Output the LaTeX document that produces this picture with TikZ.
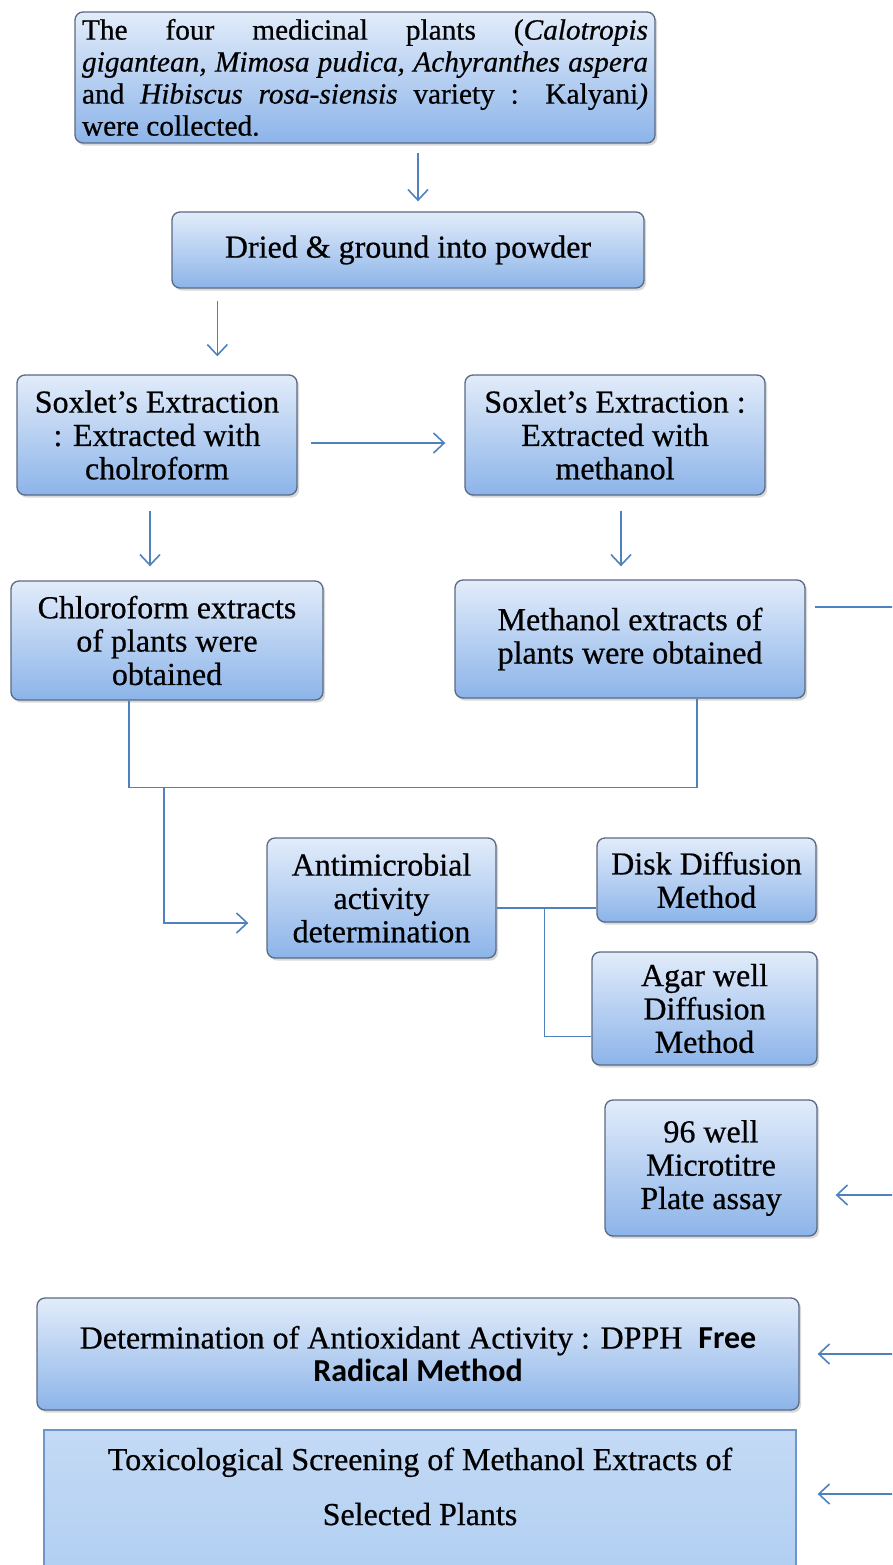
\documentclass[tikz,border=0pt]{standalone}
\usepackage{fontspec}
\setmainfont{Liberation Serif}[UprightFeatures={FakeBold=0.6},ItalicFeatures={FakeBold=0.6}]
\newfontfamily\calibri{Carlito}
\usetikzlibrary{arrows.meta,positioning,calc,shadows}
\newlength\px
\setlength\px{0.375pt}
\definecolor{boxtop}{RGB}{226,236,250}
\definecolor{boxbot}{RGB}{140,180,233}
\definecolor{boxedge}{RGB}{90,106,132}
\definecolor{flow}{RGB}{79,129,189}
\definecolor{toxtop}{RGB}{196,218,245}
\definecolor{toxbot}{RGB}{172,203,241}
\definecolor{toxedge}{RGB}{110,150,205}

\begin{document}
\begin{tikzpicture}[x=1\px,y=-1\px,
    stepbox/.style={draw=boxedge, line width=0.5pt, rounded corners=3pt,
        top color=boxtop, bottom color=boxbot,
        drop shadow={shadow xshift=0.8pt, shadow yshift=-1pt, opacity=0.3},
        align=center, inner sep=2pt, font=\fontsize{12}{12.5}\selectfont},
    toxbox/.style={draw=toxedge, line width=0.5pt, top color=toxtop, bottom color=toxbot,
        align=center, inner sep=2pt, font=\fontsize{12}{20.6}\selectfont},
    flowline/.style={draw=flow, line width=0.6pt},
    flowarrow/.style={flowline, -{Straight Barb[length=4pt,width=7.5pt]}},
]
    \path[use as bounding box, clip] (0,0) rectangle (892,1565);

    % boxes
    \node[stepbox, minimum width=580\px, minimum height=131\px, text width=566\px,
          align=justify, font=\fontsize{11}{12}\selectfont] (plants) at (365,77.5)
        {The four medicinal plants (\textit{Calotropis}\linebreak
         \textit{gigantean, Mimosa pudica, Achyranthes aspera}\linebreak
         and \textit{Hibiscus rosa-siensis} variety : Kalyani\textit{)}\linebreak
         were collected.};
    \node[stepbox, minimum width=472\px, minimum height=76\px] (dried) at (408,250)
        {Dried \& ground into powder};
    \node[stepbox, minimum width=280\px, minimum height=120\px] (soxC) at (157,435)
        {Soxlet's Extraction\\: Extracted with\\cholroform};
    \node[stepbox, minimum width=300\px, minimum height=120\px] (soxM) at (615,435)
        {Soxlet's Extraction :\\Extracted with\\methanol};
    \node[stepbox, minimum width=312\px, minimum height=119\px] (extC) at (167,640.5)
        {Chloroform extracts\\of plants were\\obtained};
    \node[stepbox, minimum width=350\px, minimum height=118\px] (extM) at (630,639)
        {Methanol extracts of\\plants were obtained};
    \node[stepbox, minimum width=229\px, minimum height=120\px] (antimic) at (381.5,898)
        {Antimicrobial\\activity\\determination};
    \node[stepbox, minimum width=219\px, minimum height=84\px] (disk) at (706.5,880)
        {Disk Diffusion\\Method};
    \node[stepbox, minimum width=225\px, minimum height=113\px] (agar) at (704.5,1008.5)
        {Agar well\\Diffusion\\Method};
    \node[stepbox, minimum width=212\px, minimum height=136\px] (well96) at (711,1168)
        {96 well\\Microtitre\\Plate assay};
    \node[stepbox, minimum width=762\px, minimum height=112\px] (dpph) at (418,1354)
        {Determination of Antioxidant Activity : DPPH\ \ {\calibri\bfseries Free}\\
         {\calibri\bfseries Radical Method}};
    \node[toxbox, minimum width=752\px, minimum height=184\px] (tox) at (420,1522)
        {Toxicological Screening of Methanol Extracts of\\Selected Plants\\\strut};

    % connectors
    \draw[flowarrow] ($(dried.north)+(10,-58)$) -- ($(dried.north)+(10,-10)$);
    \draw[flowarrow] ($(dried.south west)+(46,12)$) -- ($(dried.south west |- soxC.north)+(46,-18)$);
    \draw[flowarrow] ($(soxC.east)+(13,8)$) -- ($(soxM.west)+(-19,8)$);
    \draw[flowarrow] ($(soxC.south)+(-7,15)$) -- ($(soxC.south |- extC.north)+(-7,-14)$);
    \draw[flowarrow] ($(soxM.south)+(6,15)$) -- ($(soxM.south |- extM.north)+(6,-13)$);

    \coordinate (join) at ($(extC.south)+(-3,87)$);
    \draw[flowline] ($(extC.south)+(-38,0)$) |- ($(extM.south)+(67,89)$) -- ($(extM.south)+(67,0)$);
    \draw[flowarrow] (join) |- ($(antimic.west)+(-18,25)$);
    \draw[flowline] ($(antimic.east)+(0,10)$) -- ($(antimic.east -| disk.west)+(0,10)$);
    \draw[flowline] ($(antimic.east)+(48,10)$) |- ($(agar.west)+(0,28)$);

    \coordinate (rail) at ($(extM.east)+(96,-32)$);
    \draw[flowline] ($(extM.east)+(9,-32)$) -- (rail) -- ($(rail |- tox.east)+(0,-28)$);
    \draw[flowarrow] ($(rail |- well96.east)+(0,27)$) -- ($(well96.east)+(18,27)$);
    \draw[flowarrow] (rail |- dpph.east) -- ($(dpph.east)+(18,0)$);
    \draw[flowarrow] ($(rail |- tox.east)+(0,-28)$) -- ($(tox.east)+(21,-28)$);
\end{tikzpicture}
\end{document}
